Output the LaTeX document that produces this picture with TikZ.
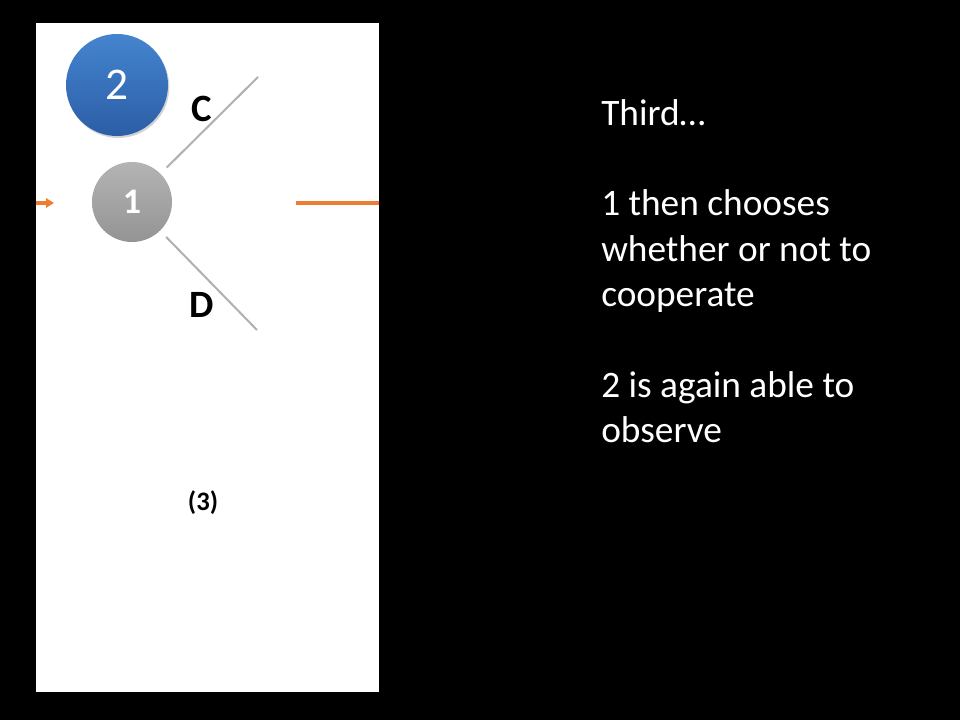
\documentclass[tikz,border=0pt]{standalone}
\usepackage{fontspec}
\setmainfont{Carlito}
\usetikzlibrary{arrows.meta,shadows}
\definecolor{orangeln}{HTML}{ED7D31}
\definecolor{blueTop}{HTML}{4584CF}
\definecolor{blueBot}{HTML}{2B5EA6}
\definecolor{grayTop}{HTML}{B4B4B4}
\definecolor{grayBot}{HTML}{949494}
\definecolor{branch}{HTML}{B0B0B0}
\tikzset{
  panel/.style={fill=white,draw=none},
  playertwo/.style={circle,minimum size=102*0.75pt,inner sep=0pt,top color=blueTop,bottom color=blueBot,draw=none,text=white,font=\fontsize{34}{34}\selectfont,
    drop shadow={shadow xshift=1pt,shadow yshift=-1.5pt,opacity=0.35}},
  playerone/.style={circle,minimum size=80*0.75pt,inner sep=0pt,top color=grayTop,bottom color=grayBot,draw=none,text=white,font=\fontsize{27}{27}\selectfont\bfseries},
  branchline/.style={draw=branch,line width=1.5pt,shorten <=6.5pt},
  lbl/.style={font=\fontsize{29}{29}\selectfont\bfseries,text=black,inner sep=0pt},
  paylbl/.style={font=\fontsize{20}{20}\selectfont\bfseries,text=black,inner sep=0pt},
  orangeline/.style={draw=orangeln,line width=3pt},
  bodytext/.style={text=white,align=left,anchor=north west,inner sep=0pt,font=\fontsize{28}{34}\selectfont}
}
\begin{document}
\begin{tikzpicture}[x=0.75pt,y=-0.75pt]
\fill[black] (0,0) rectangle (960,720);
\useasboundingbox (0,0) rectangle (960,720);
\path[panel] (36,23) rectangle (379,692);
% orange connectors
\coordinate (lstart) at (36,203);
\coordinate (ltip) at (54,203);
\draw[orangeline,line width=2.5pt,-{Triangle[length=6pt,width=7pt]}] (lstart) -- (ltip);
\coordinate (rstart) at (296,203);
\coordinate (rend) at (379,203);
\draw[orangeline] (rstart) -- (rend);
% nodes
\node[playerone] (n1) at (132,202) {1};
\coordinate (cend) at (258,77);
\coordinate (dend) at (257,330);
\draw[branchline] (n1) -- (cend);
\draw[branchline] (n1) -- (dend);
\node[playertwo] (n2) at (117,85) {2};
\node[lbl] (lc) at (202,109) {C};
\node[lbl] (ld) at (202,305) {D};
\node[paylbl] (p3) at (203,503) {(3)};
% text
\node[bodytext] (txt) at (601,99) {Third…\\[34pt]1 then chooses\\whether or not to\\cooperate\\[34pt]2 is again able to\\observe};
\end{tikzpicture}
\end{document}
